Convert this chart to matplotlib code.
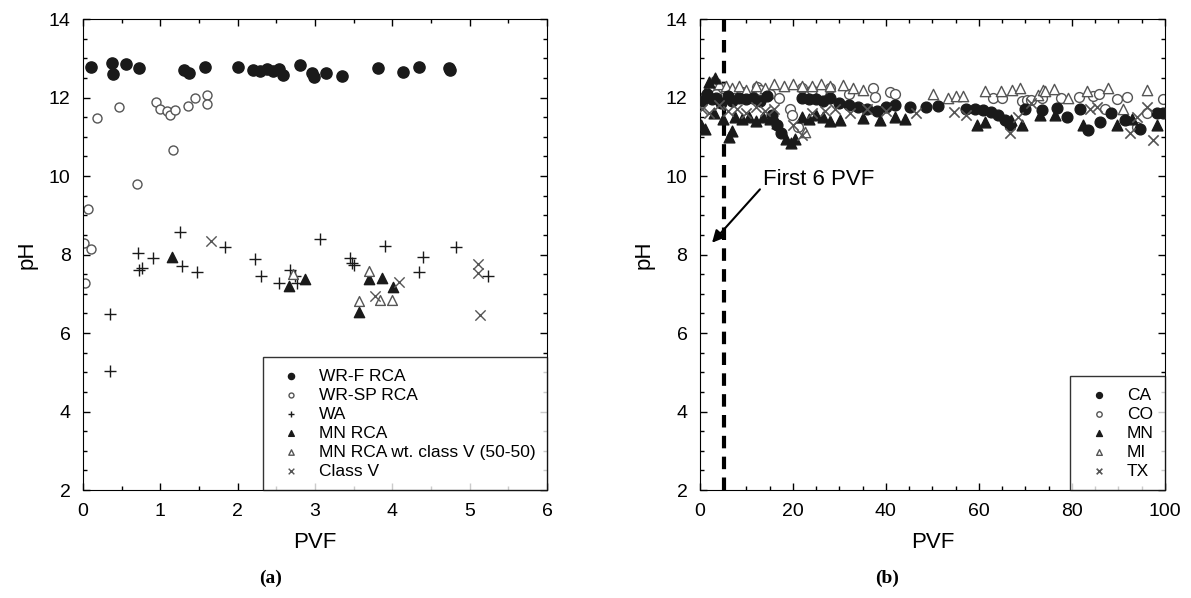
import numpy as np
import matplotlib.pyplot as plt
from matplotlib.ticker import MultipleLocator

plt.rcParams['font.family'] = ['Liberation Sans', 'DejaVu Sans']

# ---- panel (a) data: (PVF, pH) ----
wrf_x = [0.10, 0.37, 0.39, 0.56, 0.72, 1.30, 1.37, 1.58, 2.01, 2.20, 2.29, 2.38, 2.46, 2.54, 2.59,
         2.81, 2.96, 2.99, 3.14, 3.35, 3.81, 4.14, 4.35, 4.73, 4.74]
wrf_y = [12.77, 12.87, 12.60, 12.85, 12.74, 12.70, 12.63, 12.78, 12.78, 12.70, 12.68, 12.72, 12.68, 12.72, 12.57,
         12.83, 12.63, 12.51, 12.63, 12.56, 12.74, 12.65, 12.79, 12.74, 12.70]

wrsp_x = [0.18, 0.47, 0.94, 0.99, 1.09, 1.12, 1.19, 1.36, 1.45, 1.60, 1.60, 1.17, 0.70,
          0.06, 0.01, 0.10, 0.02]
wrsp_y = [11.49, 11.75, 11.89, 11.72, 11.66, 11.55, 11.68, 11.78, 11.99, 12.06, 11.83, 10.66, 9.79,
          9.15, 8.29, 8.14, 7.28]

wa_x = [0.35, 0.35, 0.71, 0.73, 0.76, 0.91, 1.26, 1.28, 1.48, 1.83, 2.23, 2.30, 2.54, 2.68, 2.74, 2.77,
        3.07, 3.45, 3.48, 3.50, 3.91, 4.39, 4.35, 4.82, 5.24]
wa_y = [6.48, 5.04, 8.03, 7.61, 7.65, 7.90, 8.57, 7.71, 7.55, 8.20, 7.88, 7.44, 7.28, 7.61, 7.45, 7.27,
        8.39, 7.90, 7.78, 7.72, 8.22, 7.94, 7.56, 8.20, 7.44]

mn_x = [1.15, 2.66, 2.87, 3.70, 3.86, 4.01, 3.57]
mn_y = [7.94, 7.20, 7.37, 7.37, 7.41, 7.16, 6.54]

mnv_x = [2.72, 3.70, 3.57, 3.84, 3.99]
mnv_y = [7.50, 7.59, 6.82, 6.84, 6.84]

cv_x = [1.65, 3.78, 4.09, 5.11, 5.11, 5.13]
cv_y = [8.35, 6.95, 7.30, 7.75, 7.52, 6.46]

# ---- panel (b) data: (PVF, pH) ----
ca_x = [0.5, 1.5, 2.5, 3.5, 4.5, 6.0, 7.0, 8.5, 10.0, 11.5, 13.0, 14.5, 15.5, 16.5, 17.5, 22.0, 23.5,
        25.0, 26.5, 28.0, 30.0, 32.0, 34.0, 36.0, 38.0, 40.0, 42.0, 45.2, 48.7, 51.1, 57.3, 59.1, 60.9,
        62.7, 64.2, 65.6, 66.7, 69.9, 73.5, 76.7, 78.9, 81.7, 83.5, 86.0, 88.5, 91.4, 94.6, 98.2, 99.6]
ca_y = [11.90, 12.10, 11.95, 12.00, 11.85, 12.05, 11.90, 12.00, 11.95, 12.00, 11.90, 12.05, 11.55, 11.30, 11.10,
        12.00, 11.95, 11.95, 11.90, 12.00, 11.85, 11.80, 11.75, 11.70, 11.65, 11.75, 11.80, 11.77, 11.77,
        11.79, 11.72, 11.72, 11.68, 11.64, 11.55, 11.43, 11.30, 11.72, 11.68, 11.74, 11.51, 11.72, 11.17,
        11.38, 11.60, 11.43, 11.21, 11.60, 11.60]

co_x = [0.5, 2.0, 3.5, 5.0, 7.0, 9.0, 11.0, 11.4, 12.2, 13.0, 15.0, 17.0, 19.4, 19.9, 21.0, 22.0, 24.0,
        26.0, 28.0, 32.0, 37.2, 37.6, 40.9, 41.9, 63.1, 65.0, 69.2, 70.3, 71.3, 73.5, 77.6, 81.6, 84.6,
        85.9, 87.1, 89.6, 91.8, 93.9, 96.1, 99.6]
co_y = [12.00, 12.20, 12.10, 12.25, 12.10, 12.15, 12.00, 12.02, 12.28, 12.20, 12.10, 12.00, 11.72, 11.55, 11.26,
        12.25, 12.20, 12.15, 12.25, 12.10, 12.23, 12.02, 12.15, 12.10, 11.98, 11.98, 11.90, 11.94, 11.94,
        11.98, 12.00, 12.02, 12.05, 12.08, 11.72, 11.96, 12.02, 11.26, 11.60, 11.96]

mn2_x = [0.3, 1.0, 2.0, 3.0, 3.2, 5.0, 6.2, 6.8, 7.5, 9.0, 10.5, 12.0, 13.5, 15.0, 16.5, 18.5, 19.5,
         20.5, 22.0, 23.5, 25.0, 26.5, 28.0, 30.1, 35.1, 38.7, 42.0, 44.0, 59.5, 61.3, 67.0, 69.2, 73.1,
         76.3, 82.4, 89.6, 93.0, 98.2]
mn2_y = [11.30, 11.20, 12.40, 11.60, 12.50, 11.45, 11.00, 11.15, 11.50, 11.45, 11.50, 11.40, 11.50, 11.45, 11.35,
         10.95, 10.85, 10.95, 11.50, 11.45, 11.55, 11.50, 11.40, 11.43, 11.48, 11.43, 11.50, 11.45, 11.30,
         11.38, 11.43, 11.30, 11.55, 11.55, 11.30, 11.30, 11.45, 11.30]

mi_x = [0.3, 1.5, 2.5, 4.0, 5.5, 7.0, 8.5, 10.0, 12.0, 14.0, 16.0, 18.0, 20.0, 22.0, 22.6, 24.0, 26.0,
        28.0, 30.8, 32.9, 35.0, 50.2, 53.4, 55.0, 56.5, 61.3, 64.7, 67.1, 68.8, 72.7, 73.8, 74.2, 76.1,
        79.2, 83.2, 87.8, 91.0, 96.1]
mi_y = [12.00, 12.20, 12.40, 12.35, 12.30, 12.25, 12.30, 12.20, 12.30, 12.25, 12.35, 12.30, 12.35, 12.30, 11.13,
        12.30, 12.35, 12.30, 12.32, 12.23, 12.20, 12.10, 12.00, 12.05, 12.05, 12.17, 12.17, 12.19, 12.25,
        12.06, 12.19, 12.17, 12.22, 12.00, 12.17, 12.23, 11.72, 12.19]

tx_x = [0.5, 2.0, 4.0, 6.0, 8.0, 10.0, 12.0, 14.0, 16.0, 20.0, 21.9, 24.0, 27.0, 29.0, 32.3, 36.0,
        40.0, 46.5, 54.7, 57.3, 66.7, 68.5, 71.2, 83.9, 85.3, 92.5, 93.9, 96.1, 97.5]
tx_y = [11.70, 11.60, 11.80, 11.65, 11.70, 11.60, 11.75, 11.65, 11.70, 11.30, 11.04, 11.60, 11.65, 11.70, 11.60,
        11.70, 11.65, 11.60, 11.64, 11.55, 11.09, 11.51, 11.85, 11.72, 11.77, 11.09, 11.51, 11.77, 10.92]


def style_axes(ax):
    ax.tick_params(which='both', direction='in', top=True, right=True, labelsize=14, pad=9)
    ax.tick_params(which='major', length=5, width=1)
    ax.tick_params(which='minor', length=3, width=1)
    ax.set_ylim(2, 14)
    ax.yaxis.set_major_locator(MultipleLocator(2))
    ax.yaxis.set_minor_locator(MultipleLocator(0.5))
    ax.set_ylabel('pH', fontsize=16, labelpad=8)
    ax.set_xlabel('PVF', fontsize=16, labelpad=9)


fig = plt.figure(figsize=(11.91, 5.98), dpi=100)
ax1 = fig.add_axes([0.0697, 0.1806, 0.3896, 0.7876])
ax2 = fig.add_axes([0.5877, 0.1806, 0.3904, 0.7876])

grey = '#555555'
ax1.scatter(wrf_x, wrf_y, s=65, marker='o', color='#1a1a1a', label='WR-F RCA')
ax1.scatter(wrsp_x, wrsp_y, s=42, marker='o', facecolor='white', edgecolor=grey, linewidth=1, label='WR-SP RCA')
ax1.scatter(wa_x, wa_y, s=65, marker='+', color='#1a1a1a', linewidth=1, label='WA')
ax1.scatter(mn_x, mn_y, s=55, marker='^', color='#1a1a1a', label='MN RCA')
ax1.scatter(mnv_x, mnv_y, s=50, marker='^', facecolor='white', edgecolor=grey, linewidth=1,
            label='MN RCA wt. class V (50-50)')
ax1.scatter(cv_x, cv_y, s=55, marker='x', color=grey, linewidth=1, label='Class V')
ax1.set_xlim(0, 6)
ax1.xaxis.set_major_locator(MultipleLocator(1))
ax1.xaxis.set_minor_locator(MultipleLocator(0.5))
style_axes(ax1)
leg1 = ax1.legend(loc='lower right', fontsize=12.5, frameon=True, fancybox=False, edgecolor='black',
                  markerscale=0.55, handletextpad=0.6, labelspacing=0.22, borderaxespad=0,
                  borderpad=0.65, handlelength=2.0)
leg1.get_frame().set_linewidth(1)

ax2.axvline(5.2, color='black', linestyle=(0, (3, 2)), linewidth=3, zorder=1)
ax2.scatter(ca_x, ca_y, s=60, marker='o', color='#1a1a1a', label='CA', zorder=3)
ax2.scatter(co_x, co_y, s=50, marker='o', facecolor='white', edgecolor=grey, linewidth=1, label='CO', zorder=2)
ax2.scatter(mn2_x, mn2_y, s=60, marker='^', color='#1a1a1a', label='MN', zorder=3)
ax2.scatter(mi_x, mi_y, s=55, marker='^', facecolor='white', edgecolor=grey, linewidth=1, label='MI', zorder=2)
ax2.scatter(tx_x, tx_y, s=55, marker='x', color=grey, linewidth=1.2, label='TX', zorder=3)
ax2.set_xlim(0, 100)
ax2.xaxis.set_major_locator(MultipleLocator(20))
ax2.xaxis.set_minor_locator(MultipleLocator(5))
style_axes(ax2)
ax2.annotate('First 6 PVF', xy=(2.6, 8.3), xytext=(13.5, 9.9), fontsize=16, va='center',
             arrowprops=dict(arrowstyle='-|>', color='black', lw=1.5, mutation_scale=18,
                             shrinkA=0, shrinkB=0, relpos=(0, 0.2)))
leg2 = ax2.legend(loc='lower right', fontsize=12.5, frameon=True, fancybox=False, edgecolor='black',
                  markerscale=0.55, handletextpad=0.6, labelspacing=0.22, borderaxespad=0,
                  borderpad=0.65, handlelength=2.0)
leg2.get_frame().set_linewidth(1)

fig.text(0.227, 0.025, '(a)', fontsize=14, fontweight='bold', family='Liberation Serif', ha='center')
fig.text(0.745, 0.025, '(b)', fontsize=14, fontweight='bold', family='Liberation Serif', ha='center')

fig.savefig('out.png', dpi=100)
